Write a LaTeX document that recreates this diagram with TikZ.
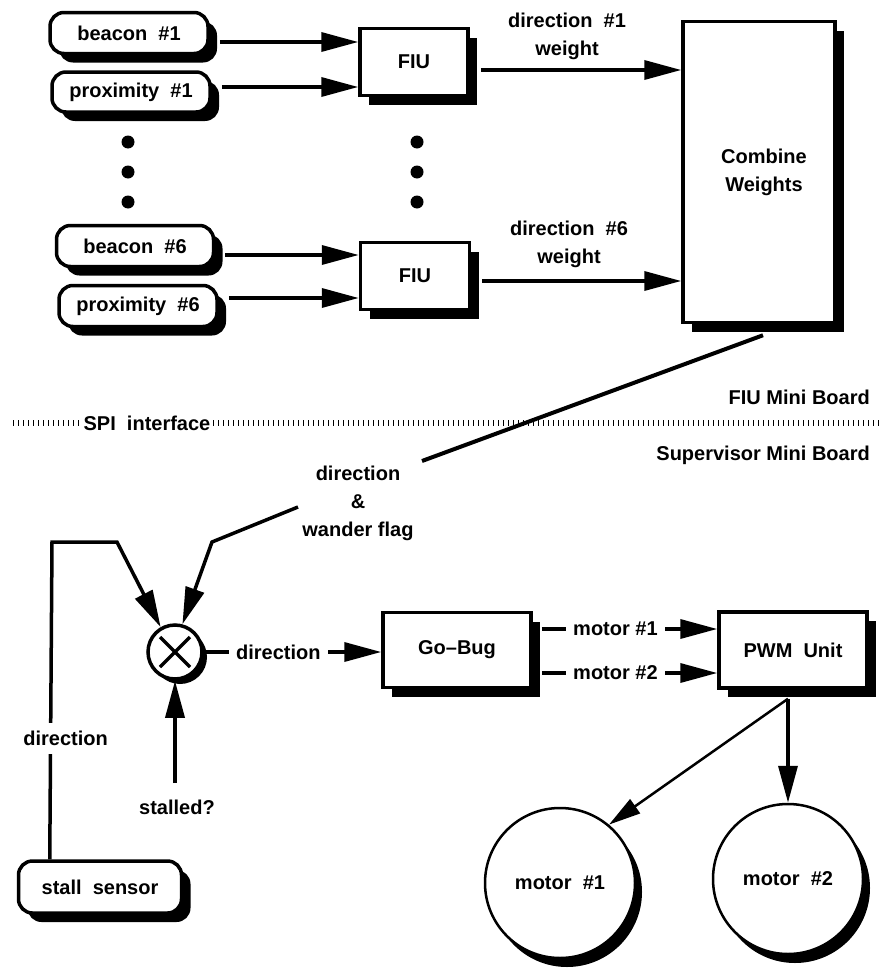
\documentclass[tikz,border=0pt]{standalone}
\usepackage{fontspec}
\setmainfont{Liberation Sans}
\usetikzlibrary{arrows.meta,shadows,calc}
\begin{document}
\begin{tikzpicture}[x=1pt,y=-1pt,
  every node/.style={font=\fontsize{20}{28}\selectfont\bfseries, inner sep=0pt},
  lw/.style={line width=3.5pt},
  sh/.style={drop shadow={shadow xshift=9pt,shadow yshift=-9pt,fill=black,opacity=1}},
  rbox/.style={draw, lw, fill=white, rounded corners=14pt, sh},
  sbox/.style={draw, lw, fill=white, sh},
  arr/.style={lw, -{Triangle[length=37pt,width=19pt]}},
  lbl/.style={fill=white, inner xsep=7pt, inner ysep=4pt},
  motor/.style={circle, draw, line width=2.5pt, fill=white, minimum size=150pt,
    drop shadow={shadow xshift=7pt,shadow yshift=-9pt,fill=black,opacity=1}},
]
\useasboundingbox (0,0) rectangle (882,969);

% FIU mini board
\node[rbox, minimum width=158pt, minimum height=41pt] (b1) at (129,33) {beacon\ \ \#1};
\node[rbox, minimum width=158pt, minimum height=40pt] (p1) at (131,92) {proximity\ \ \#1};
\node[rbox, minimum width=157pt, minimum height=41pt] (b6) at (135,246) {beacon\ \ \#6};
\node[rbox, minimum width=158pt, minimum height=41pt] (p6) at (138,306) {proximity\ \ \#6};
\node[sbox, minimum width=108pt, minimum height=67pt] (fiu1) at (414,62) {FIU};
\node[sbox, minimum width=109pt, minimum height=67pt] (fiu6) at (415,276) {FIU};
\node[sbox, minimum width=152pt, minimum height=301pt, align=center] (cw) at (759,172) {\hspace*{10pt}Combine\\\hspace*{10pt}Weights};

\foreach \yy in {142,172,202} {
  \fill (128,\yy) circle[radius=6.5pt];
  \fill (417,\yy) circle[radius=6.5pt];
}

\coordinate (a1) at ([xshift=10pt,yshift=-9pt]b1.east);
\draw[arr] (a1) -- (a1 -| fiu1.west);
\coordinate (a2) at ([xshift=10pt,yshift=5pt]p1.east);
\draw[arr] (a2) -- (a2 -| fiu1.west);
\coordinate (a3) at ([xshift=10pt,yshift=-9pt]b6.east);
\draw[arr] (a3) -- (a3 -| fiu6.west);
\coordinate (a4) at ([xshift=10pt,yshift=8pt]p6.east);
\draw[arr] (a4) -- (a4 -| fiu6.west);

\coordinate (f1) at ([xshift=11pt,yshift=-8pt]fiu1.east);
\draw[arr] (f1) -- (f1 -| cw.west);
\coordinate (f6) at ([xshift=11pt,yshift=-5pt]fiu6.east);
\draw[arr] (f6) -- (f6 -| cw.west);
\node[align=center] (l1) at (567,36) {direction\ \ \#1\\weight};
\node[align=center] (l6) at (569,244) {direction\ \ \#6\\weight};

% interface
\draw[line width=6pt, dash pattern=on 1.2pt off 3.8pt] (13,423) -- (880,423);
\node[fill=white, inner xsep=2pt, inner ysep=5pt] (spi) at (147,423) {SPI\ \ interface};
\node[anchor=east] (fmb) at (870,397) {FIU Mini Board};
\node[anchor=east] (smb) at (870,455) {Supervisor Mini Board};

% supervisor board
\node[align=center] (dwf) at (358,503) {direction\\\&\\wander flag};
\node[circle, draw, lw, fill=white, minimum size=54pt,
  drop shadow={shadow xshift=5pt,shadow yshift=-5pt,fill=black,opacity=1}] (mix) at (175,652) {};
\draw[lw] ($(mix)+(-15,-15)$) -- ($(mix)+(15,15)$);
\draw[lw] ($(mix)+(-15,15)$) -- ($(mix)+(15,-15)$);

\draw[line width=4pt] ([shift={(4,11)}]cw.south) -- (422,461);
\draw[arr] (298,507) -- (212,542) -- (mix.75);

\node[rbox, minimum width=163pt, minimum height=52pt] (stall) at (100,887) {stall\ \ sensor};
\draw[arr] ([xshift=33pt]stall.north west) -- node[lbl, pos=0.38, xshift=15pt, inner xsep=2pt, inner ysep=8pt]{direction} (52,542) -- (117,542) -- (mix.120);

\node (st) at (177,807) {stalled?};
\coordinate (s0) at (175,783);
\draw[arr] (s0) -- (mix.south);

\node[sbox, minimum width=148pt, minimum height=75pt] (gobug) at (457,650) {Go--Bug};
\node[sbox, minimum width=148pt, minimum height=76pt] (pwm) at (793,650) {PWM\ \ Unit};
\draw[arr] (mix.east) -- node[lbl, pos=0.42]{direction} (mix.east -| gobug.west);

\coordinate (g1) at ([xshift=9pt,yshift=21pt]gobug.east);
\draw[arr] (g1) -- node[lbl, pos=0.42]{motor \#1} (g1 -| pwm.west);
\coordinate (g2) at ([xshift=9pt,yshift=-23pt]gobug.east);
\draw[arr] (g2) -- node[lbl, pos=0.42]{motor \#2} (g2 -| pwm.west);

\node[motor] (m1) at (560,883) {motor\ \ \#1};
\node[motor] (m2) at (788,879) {motor\ \ \#2};
\coordinate (pw) at ([xshift=-5pt,yshift=-9pt]pwm.south);
\draw[arr] (pw) -- (m2.north);
\draw[line width=2.5pt, -{Triangle[length=32pt,width=17pt]}] (pw) -- (m1.50);
\end{tikzpicture}
\end{document}
